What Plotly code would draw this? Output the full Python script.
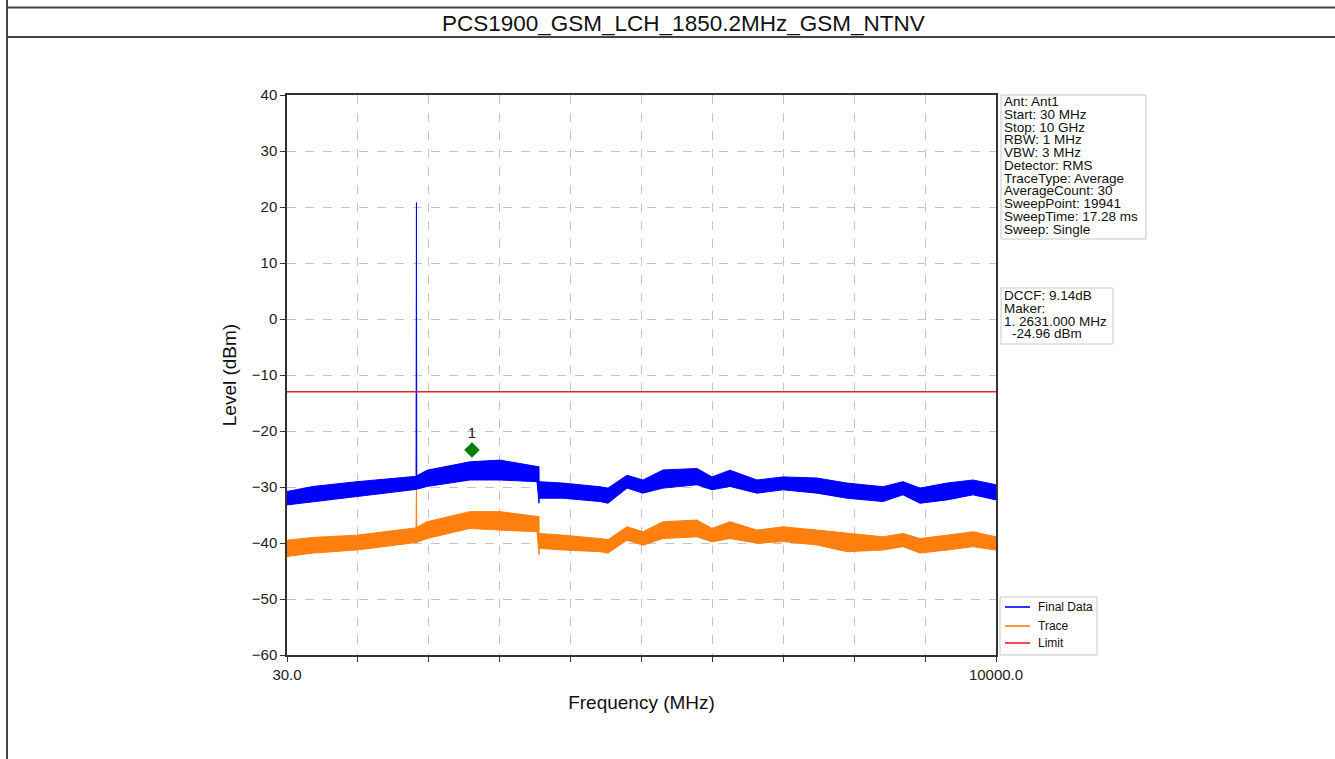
import plotly.graph_objects as go

# ---------------- data ----------------
freq_mhz = [30, 396, 1014, 1802, 1845, 1850.2, 1855, 2000, 2603, 3025, 3546, 3574, 3575,
            3911, 4431, 4544, 4811, 5036, 5317, 5795, 6006, 6259, 6639, 7005, 7483,
            7905, 8411, 8692, 8931, 9311, 9677, 10000]

final_upper = [-30.8, -29.9, -29.05, -28.2, -28.1, 20.8, -28.0, -27.0, -25.5, -25.2, -26.4, -26.4, -29.05,
               -29.3, -29.95, -30.2, -27.9, -28.75, -26.96, -26.7, -28.2, -27.0, -28.75, -28.2, -28.4,
               -29.3, -29.95, -29.05, -30.2, -29.3, -28.75, -29.6]
final_lower = [-33.2, -32.6, -31.7, -30.5, -30.5, -30.5, -30.4, -29.9, -28.75, -28.75, -29.05, -32.9, -32.0,
               -32.0, -32.6, -32.9, -30.2, -31.1, -30.2, -29.6, -30.5, -29.9, -31.1, -30.5, -31.1,
               -32.0, -32.6, -31.4, -32.9, -32.3, -31.4, -32.3]

trace_upper = [-39.5, -39.0, -38.6, -37.4, -37.3, -29.5, -37.2, -36.2, -34.4, -34.4, -35.3, -35.3, -38.3,
               -38.6, -39.2, -39.4, -37.1, -38.0, -36.2, -35.9, -37.4, -36.2, -37.7, -37.1, -37.7,
               -38.3, -38.9, -38.3, -39.2, -38.6, -38.0, -38.9]
trace_lower = [-42.4, -41.8, -41.25, -40.05, -40.0, -40.0, -39.9, -39.2, -37.4, -37.7, -38.0, -42.1, -40.95,
               -41.25, -41.55, -41.8, -39.5, -40.4, -39.2, -38.9, -39.8, -39.2, -40.05, -39.75, -40.35,
               -41.55, -41.25, -40.65, -41.8, -41.25, -40.65, -41.25]

limit_freq = [30, 10000]
limit_level = [-13, -13]

marker_freq = [2631]
marker_level = [-23.4]
marker_label = ["1"]

x_tickvals = [30, 1027, 2024, 3021, 4018, 5015, 6012, 7009, 8006, 9003, 10000]
x_ticktext = ["30.0", "", "", "", "", "", "", "", "", "", "10000.0"]
y_tickvals = [-60, -50, -40, -30, -20, -10, 0, 10, 20, 30, 40]

series_names = ["Final Data", "Trace", "Limit"]
series_colors = ["#0000ff", "#ff7f0e", "#e8202a"]

title_text = "PCS1900_GSM_LCH_1850.2MHz_GSM_NTNV"
info_lines = ["Ant: Ant1", "Start: 30 MHz", "Stop: 10 GHz", "RBW: 1 MHz", "VBW: 3 MHz",
              "Detector: RMS", "TraceType: Average", "AverageCount: 30", "SweepPoint: 19941",
              "SweepTime: 17.28 ms", "Sweep: Single"]
marker_lines = ["DCCF: 9.14dB", "Maker:", "1. 2631.000 MHz", "-24.96 dBm"]

# ---------------- layout helpers ----------------
W, H = 1335, 759
L, R, T, B = 287, 996, 95, 655
FONT = "Liberation Sans, Arial, sans-serif"


def px(x):
    return (x - L) / (R - L)


def py(y):
    return (B - y) / (B - T)


fig = go.Figure()

# Trace (orange) band, drawn first so the blue sits on top
fig.add_trace(go.Scatter(x=freq_mhz, y=trace_upper, mode="lines", name=series_names[1],
                         line=dict(color=series_colors[1], width=1), showlegend=False))
fig.add_trace(go.Scatter(x=freq_mhz, y=trace_lower, mode="lines", showlegend=False,
                         line=dict(color=series_colors[1], width=1), fill="tonexty",
                         fillcolor=series_colors[1]))
# Final Data (blue) band
fig.add_trace(go.Scatter(x=freq_mhz, y=final_upper, mode="lines", name=series_names[0],
                         line=dict(color=series_colors[0], width=1), showlegend=False))
fig.add_trace(go.Scatter(x=freq_mhz, y=final_lower, mode="lines", showlegend=False,
                         line=dict(color=series_colors[0], width=1), fill="tonexty",
                         fillcolor=series_colors[0]))
# Limit
fig.add_trace(go.Scatter(x=limit_freq, y=limit_level, mode="lines", name=series_names[2],
                         line=dict(color=series_colors[2], width=1.5), showlegend=False))
# Marker
fig.add_trace(go.Scatter(x=marker_freq, y=marker_level, mode="markers+text", showlegend=False,
                         text=marker_label, textposition="top center",
                         textfont=dict(size=15, color="#222", family=FONT),
                         marker=dict(symbol="diamond", size=12, color="#008000")))

shapes = []
# page frame lines
line_style = dict(color="#444", width=2)
shapes.append(dict(type="line", xref="paper", yref="paper", x0=px(7), x1=px(W), y0=py(7.5), y1=py(7.5), line=line_style))
shapes.append(dict(type="line", xref="paper", yref="paper", x0=px(7), x1=px(W), y0=py(37), y1=py(37), line=line_style))
shapes.append(dict(type="line", xref="paper", yref="paper", x0=px(7), x1=px(7), y0=py(0), y1=py(H), line=line_style))
# info boxes
box_style = dict(color="#c8c8c8", width=1)
shapes.append(dict(type="rect", xref="paper", yref="paper", x0=px(1001), x1=px(1146), y0=py(95), y1=py(239),
                   line=box_style, fillcolor="rgba(255,255,255,0.8)", layer="below"))
shapes.append(dict(type="rect", xref="paper", yref="paper", x0=px(1001), x1=px(1113), y0=py(288), y1=py(344),
                   line=box_style, fillcolor="rgba(255,255,255,0.8)", layer="below"))
# legend box
shapes.append(dict(type="rect", xref="paper", yref="paper", x0=px(1000), x1=px(1097), y0=py(597), y1=py(655),
                   line=box_style, fillcolor="white"))

annotations = []
annotations.append(dict(text=title_text, xref="paper", yref="paper", x=px(683), y=py(23),
                        showarrow=False, xanchor="center", yanchor="middle",
                        font=dict(size=22.5, color="#111", family=FONT)))
for i, t in enumerate(info_lines):
    annotations.append(dict(text=t, xref="paper", yref="paper", x=px(1002), y=py(101.7 + i * 12.73),
                            showarrow=False, xanchor="left", yanchor="middle",
                            font=dict(size=13.5, color="#111", family=FONT)))
marker_y = [295.7, 308.3, 321.7, 333.3]
marker_x = [1002, 1002, 1002, 1010]
for t, xx, yy in zip(marker_lines, marker_x, marker_y):
    annotations.append(dict(text=t, xref="paper", yref="paper", x=px(xx), y=py(yy),
                            showarrow=False, xanchor="left", yanchor="middle",
                            font=dict(size=13.5, color="#111", family=FONT)))
# legend entries
legend_y = [607, 626, 643]
for name, color, yy in zip(series_names, series_colors, legend_y):
    shapes.append(dict(type="line", xref="paper", yref="paper", x0=px(1005), x1=px(1030),
                       y0=py(yy), y1=py(yy), line=dict(color=color, width=1.6)))
    annotations.append(dict(text=name, xref="paper", yref="paper", x=px(1036), y=py(yy),
                            showarrow=False, xanchor="left", yanchor="middle",
                            font=dict(size=12, color="#111", family=FONT)))

fig.update_layout(
    width=W, height=H,
    margin=dict(l=L, r=W - R, t=T, b=H - B, pad=0),
    paper_bgcolor="white", plot_bgcolor="white",
    font=dict(family=FONT, color="#222"),
    showlegend=False,
    shapes=shapes,
    annotations=annotations,
)

fig.update_xaxes(range=[30, 10000], tickmode="array", tickvals=x_tickvals, ticktext=x_ticktext,
                 ticks="outside", ticklen=5, tickwidth=1.2, tickcolor="#333",
                 showline=True, linecolor="#333", linewidth=1.5, mirror=True,
                 showgrid=True, gridcolor="#c4c4c4", griddash="dash", gridwidth=0.8,
                 zeroline=False, tickfont=dict(size=15, color="#222", family=FONT),
                 title=dict(text="Frequency (MHz)", font=dict(size=19, color="#111", family=FONT), standoff=14))
fig.update_yaxes(range=[-60, 40], tickmode="array", tickvals=y_tickvals,
                 ticks="outside", ticklen=5, tickwidth=1.2, tickcolor="#333",
                 showline=True, linecolor="#333", linewidth=1.5, mirror=True,
                 showgrid=True, gridcolor="#c4c4c4", griddash="dash", gridwidth=0.8,
                 zeroline=False, tickfont=dict(size=15, color="#222", family=FONT),
                 title=dict(text="Level (dBm)", font=dict(size=19, color="#111", family=FONT), standoff=10))

fig.write_html("out.html", config={"displayModeBar": False},
               post_script="document.body.style.margin='0px';")
